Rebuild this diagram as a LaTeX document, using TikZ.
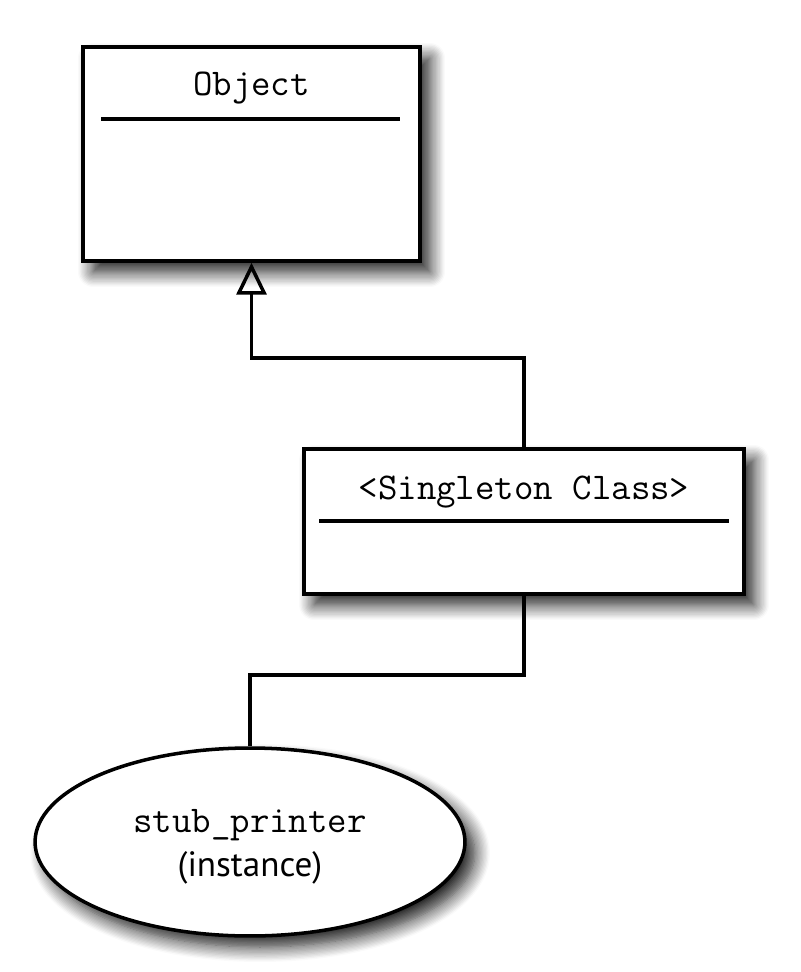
\documentclass[tikz,border=0pt]{standalone}
\usepackage{fontspec}
\newfontfamily\captionfont{PT Sans}
\usetikzlibrary{shapes.geometric,shadows.blur,arrows.meta}

\begin{document}
\begin{tikzpicture}[x=0.02cm,y=-0.02cm,
	classbox/.style={draw,line width=2pt,fill=white,rectangle,
		blur shadow={shadow xshift=0.2cm,shadow yshift=-0.22cm,shadow blur radius=0.3cm,shadow blur steps=12,shadow opacity=90}},
	instbox/.style={draw,line width=2pt,fill=white,ellipse,
		blur shadow={shadow xshift=0.2cm,shadow yshift=-0.22cm,shadow blur radius=0.3cm,shadow blur steps=12,shadow opacity=90}},
	link/.style={line width=2pt},
	classname/.style={font=\ttfamily\fontsize{21.5}{24}\selectfont}]

	\useasboundingbox (0,0) rectangle (800,972);

	% classes
	\node[classbox,minimum width=6.74cm,minimum height=4.28cm] (object) at (251.5,154) {};
	\node[classname] (objectname) at (251.5,88) {Object};
	\draw[link] (101,119) -- (400,119);

	\node[classbox,minimum width=8.8cm,minimum height=2.9cm] (singleton) at (524,521.5) {};
	\node[classname] (singletonname) at (524,492) {<Singleton Class>};
	\draw[link] (319,521) -- (729,521);

	% instance
	\node[instbox,minimum width=8.6cm,minimum height=3.76cm,inner sep=0pt] (printer) at (250,842) {};
	\node[classname] (printername) at (250,825) {stub\_printer};
	\node[font=\captionfont\fontsize{20}{23}\selectfont] (printerkind) at (250,868) {(instance)};

	% connectors
	\draw[link,-{Triangle[open,length=0.64cm,width=0.6cm,line width=2pt]}]
		(singleton.north) -- ++(0,-89) -| (object.south);
	\draw[link] (singleton.south) -- ++(0,79) -| (printer.north);

\end{tikzpicture}
\end{document}
